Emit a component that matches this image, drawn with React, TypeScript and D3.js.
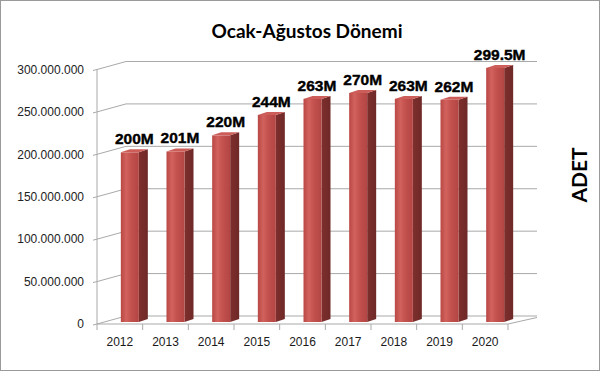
import React from 'react'
import * as d3 from 'd3'

const years = ['2012', '2013', '2014', '2015', '2016', '2017', '2018', '2019', '2020']
const values = [200e6, 201e6, 220e6, 244e6, 263e6, 270e6, 263e6, 262e6, 299.5e6]
const valueLabels = ['200M', '201M', '220M', '244M', '263M', '270M', '263M', '262M', '299.5M']
const yTicks = [0, 50e6, 100e6, 150e6, 200e6, 250e6, 300e6]

const W = 600
const H = 372
// depth of the 3d box
const DX = 29
const DY = -8
const gridColor = '#a9a9a9'

const fmt = (v: number) => d3.format(',')(v).replace(/,/g, '.')

const App = () => {
  const x = d3.scaleBand().domain(years).range([97, 508]).padding(0)
  const y = d3.scaleLinear().domain([0, 300e6]).range([324, 69.5])
  const bw = x.bandwidth()
  const faceW = 18
  const sideW = 9
  const sideDy = -3
  const baseShift = -2

  const x0 = x.range()[0]
  const x1 = x.range()[1]

  return (
    <svg width={W} height={H} style={{ position: 'absolute', left: 0, top: 0, background: '#fff' }}>
      <defs>
        <linearGradient id="face" x1="0" x2="1" y1="0" y2="0">
          <stop offset="0%" stopColor="#b94845" />
          <stop offset="30%" stopColor="#d2625e" />
          <stop offset="55%" stopColor="#c4524f" />
          <stop offset="100%" stopColor="#b24542" />
        </linearGradient>
        <linearGradient id="side" x1="0" x2="1" y1="0" y2="0">
          <stop offset="0%" stopColor="#7e2f2d" />
          <stop offset="100%" stopColor="#6e2927" />
        </linearGradient>
      </defs>
      <rect x={0.5} y={0.5} width={W - 1} height={H - 2} fill="#fff" stroke="#9a9a9a" />

      <text x={307} y={38} textAnchor="middle" fontFamily="Lato" fontWeight="bold" fontSize={19} fill="#000">
        Ocak-Ağustos Dönemi
      </text>

      {/* back wall grid lines and side wall ticks */}
      {yTicks.map(t => (
        <g key={t}>
          <polyline
            points={`${x0 - 4},${y(t) + 1} ${x0},${y(t)} ${x0 + DX},${y(t) + DY} ${x1 + DX},${y(t) + DY}`}
            fill="none"
            stroke={gridColor}
            strokeWidth={1}
          />
          <text x={84} y={y(t)} dy="0.35em" textAnchor="end" fontFamily="Liberation Sans" fontSize={12} fill="#222">
            {fmt(t)}
          </text>
        </g>
      ))}

      {/* floor */}
      <polyline
        points={`${x1},${y(0)} ${x1 + DX},${y(0) + DY + 1.5}`}
        fill="none"
        stroke={gridColor}
      />
      <line x1={x0} x2={x0} y1={y(300e6)} y2={y(0)} stroke={gridColor} />
      <line x1={x0} x2={x1} y1={y(0)} y2={y(0)} stroke={gridColor} />
      {years.concat(['end']).map((yr, i) => {
        const px = yr === 'end' ? x1 : (x(yr) as number)
        return <line key={i} x1={px} x2={px} y1={y(0)} y2={y(0) + 6} stroke={gridColor} />
      })}

      {/* bars */}
      {years.map((yr, i) => {
        const left = (x(yr) as number) + bw / 2 + 1
        const base = y(0) + baseShift
        const top = y(values[i]) + baseShift
        const r = left + faceW
        return (
          <g key={yr}>
            <polygon
              points={`${r},${top} ${r + sideW},${top + sideDy} ${r + sideW},${base + sideDy} ${r},${base}`}
              fill="url(#side)"
            />
            <rect x={left} y={top} width={faceW} height={base - top} fill="url(#face)" />
            <polygon
              points={`${left},${top} ${left + sideW},${top + sideDy} ${r + sideW},${top + sideDy} ${r},${top}`}
              fill="#cd5d59"
            />
            <text
              x={left + (faceW + sideW) / 2}
              y={top - 8}
              textAnchor="middle"
              fontFamily="Liberation Sans"
              fontWeight="bold"
              fontSize={15.5}
              stroke="#000"
              strokeWidth={0.4}
              fill="#000"
            >
              {valueLabels[i]}
            </text>
            <text
              x={(x(yr) as number) + bw / 2}
              y={342}
              dy="0.35em"
              textAnchor="middle"
              fontFamily="Liberation Sans"
              fontSize={12}
              fill="#1a1a1a"
            >
              {yr}
            </text>
          </g>
        )
      })}

      <text
        transform="translate(587,175) rotate(-90)"
        textAnchor="middle"
        fontFamily="Lato"
        fontWeight="bold"
        fontSize={21}
        fill="#000"
      >
        ADET
      </text>
    </svg>
  )
}

export default App
